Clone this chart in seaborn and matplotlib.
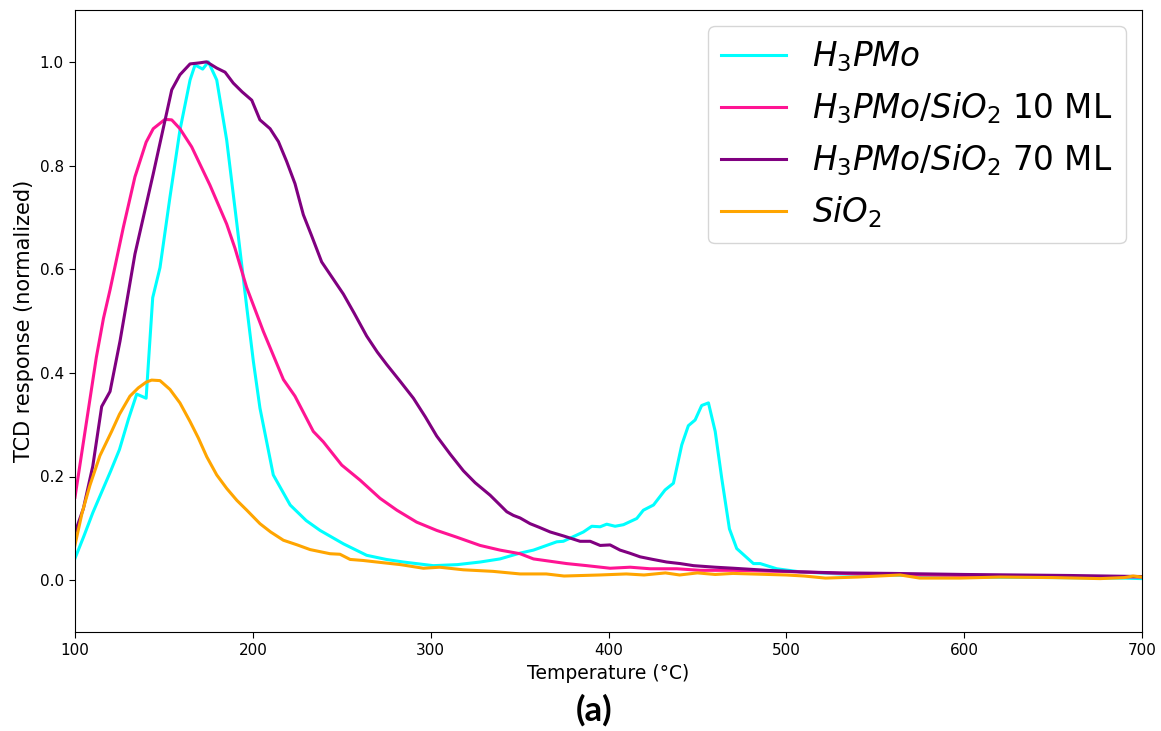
import matplotlib
matplotlib.use("Agg")
import matplotlib.pyplot as plt
import seaborn as sns
import pandas as pd

# TPD profiles (normalized TCD signal) versus temperature, one list pair per sample
t_h3pmo = [100, 105, 110, 115, 120, 125, 130, 134.7, 140, 141.3, 143.7, 147.8, 153.4, 159,
           164.7, 167.5, 171.8, 175, 179.7, 185.3, 191, 196.6, 200.3, 204, 211.5, 221, 230,
           237.8, 251, 264, 275, 284.7, 301.5, 315, 327.8, 339, 350, 357.8, 370.9, 374.6,
           385.9, 390.6, 395.3, 399, 403.7, 408.4, 415.9, 419.6, 425.3, 431.8, 436.5, 441.2,
           444.9, 448.7, 452.4, 456.2, 460, 463.7, 468, 472.1, 481.5, 485.3, 494.6, 507.8,
           530, 560, 600, 650, 690, 700]
y_h3pmo = [0.042, 0.085, 0.13, 0.17, 0.21, 0.252, 0.31, 0.359, 0.351, 0.42, 0.545, 0.603,
           0.739, 0.868, 0.965, 0.994, 0.986, 1.0, 0.965, 0.849, 0.688, 0.526, 0.422, 0.332,
           0.203, 0.145, 0.115, 0.096, 0.070, 0.048, 0.040, 0.035, 0.028, 0.030, 0.035, 0.041,
           0.052, 0.058, 0.074, 0.075, 0.093, 0.104, 0.103, 0.108, 0.104, 0.107, 0.119, 0.135,
           0.145, 0.174, 0.187, 0.261, 0.298, 0.309, 0.337, 0.342, 0.287, 0.196, 0.099, 0.061,
           0.032, 0.032, 0.022, 0.016, 0.012, 0.010, 0.006, 0.005, 0.004, 0.003]

t_10ml = [100, 104, 108, 112, 116, 119.7, 127.2, 133.7, 140, 144, 150.6, 154.4, 159,
          165.6, 175.9, 185.3, 190, 196.5, 205.9, 217.2, 223.7, 234, 239.6, 250, 260.3, 271.5,
          281, 292.1, 303.4, 314.6, 327.8, 339, 350.3, 357.8, 376.5, 387.8, 400.9, 412.2,
          423.4, 438.4, 451.5, 470.3, 507.8, 540, 580, 620, 660, 700]
y_10ml = [0.160, 0.25, 0.34, 0.43, 0.505, 0.56, 0.681, 0.778, 0.845, 0.871, 0.889, 0.888,
          0.871, 0.836, 0.762, 0.687, 0.64, 0.565, 0.48, 0.387, 0.355, 0.287, 0.267, 0.222,
          0.193, 0.158, 0.135, 0.112, 0.096, 0.083, 0.067, 0.058, 0.051, 0.041, 0.032, 0.028,
          0.023, 0.025, 0.022, 0.022, 0.019, 0.019, 0.016, 0.012, 0.010, 0.008, 0.007, 0.006]

t_70ml = [100, 104.7, 110, 115, 119.7, 125.3, 133.7, 144, 154.4, 159, 164.7, 170, 174,
          179.7, 184.4, 189, 194, 199.4, 204, 209.7, 214.4, 219, 223.7, 228.4, 233, 238.7,
          245, 250.9, 257, 264, 270, 275.3, 283, 290.3, 297, 303.4, 311, 318.4, 325, 333.4,
          339, 342.8, 346.5, 350.3, 355.9, 361, 367.2, 375, 384, 389.7, 395.3, 400.9, 406.5,
          412, 417.8, 425, 432.7, 440.3, 447.8, 460, 470.3, 489, 507.8, 530, 560, 580, 600,
          630, 660, 680, 700]
y_70ml = [0.092, 0.138, 0.22, 0.335, 0.364, 0.461, 0.629, 0.784, 0.946, 0.975, 0.996, 0.998,
          1.0, 0.988, 0.980, 0.959, 0.942, 0.926, 0.888, 0.871, 0.846, 0.808, 0.765, 0.705,
          0.665, 0.614, 0.582, 0.552, 0.515, 0.471, 0.440, 0.416, 0.383, 0.351, 0.315, 0.278,
          0.243, 0.211, 0.188, 0.164, 0.145, 0.132, 0.125, 0.120, 0.109, 0.102, 0.093, 0.085,
          0.075, 0.075, 0.067, 0.068, 0.058, 0.052, 0.045, 0.040, 0.035, 0.032, 0.028, 0.025,
          0.023, 0.019, 0.016, 0.014, 0.013, 0.012, 0.011, 0.010, 0.009, 0.008, 0.007]

t_sio2 = [100, 104, 108.4, 114, 120.6, 125, 130.9, 135.6, 140, 143.1, 147.8, 153.4, 159,
          164.7, 169.4, 174.1, 179.7, 185.3, 191, 196.6, 204, 210, 217.2, 225, 232.2, 243.4,
          249, 254.7, 262, 269.7, 283, 295.9, 305, 318.4, 335, 350.3, 365, 375, 395, 410,
          420, 432, 440, 450, 460, 470, 480, 500, 510, 522, 540, 564, 575, 597.7, 620, 650,
          676.5, 690, 695, 700]
y_sio2 = [0.068, 0.13, 0.183, 0.24, 0.287, 0.32, 0.355, 0.371, 0.382, 0.386, 0.385, 0.368,
          0.342, 0.306, 0.274, 0.238, 0.203, 0.177, 0.154, 0.135, 0.109, 0.093, 0.077, 0.068,
          0.059, 0.051, 0.050, 0.040, 0.038, 0.035, 0.030, 0.023, 0.025, 0.020, 0.017, 0.012,
          0.012, 0.008, 0.010, 0.012, 0.010, 0.014, 0.010, 0.014, 0.011, 0.013, 0.012, 0.010,
          0.008, 0.004, 0.006, 0.010, 0.004, 0.004, 0.006, 0.005, 0.003, 0.005, 0.008, 0.006]

labels = [r"$H_3PMo$", r"$H_3PMo/SiO_2$ 10 ML", r"$H_3PMo/SiO_2$ 70 ML", r"$SiO_2$"]
colors = ["#00FFFF", "#FF1493", "#800080", "#FFA500"]

frames = []
for lab, t, y in zip(labels, [t_h3pmo, t_10ml, t_70ml, t_sio2],
                     [y_h3pmo, y_10ml, y_70ml, y_sio2]):
    frames.append(pd.DataFrame({"Temperature": t, "TCD": y, "Sample": lab}))
df = pd.concat(frames, ignore_index=True)

fig = plt.figure(figsize=(11.61, 7.31), dpi=100)
ax = fig.add_axes([75 / 1161, 1 - 632 / 731, (1142 - 75) / 1161, (632 - 10) / 731])

sns.lineplot(data=df, x="Temperature", y="TCD", hue="Sample", hue_order=labels,
             palette=dict(zip(labels, colors)), estimator=None, errorbar=None,
             linewidth=2.2, ax=ax)

ax.set_xlim(100, 700)
ax.set_ylim(-0.1, 1.1)
ax.set_xticks([100, 200, 300, 400, 500, 600, 700])
ax.set_yticks([0.0, 0.2, 0.4, 0.6, 0.8, 1.0])
ax.tick_params(labelsize=11, length=4.5)
ax.set_xlabel("Temperature (°C)", fontsize=13.5)
ax.set_ylabel("TCD response (normalized)", fontsize=15)

sns.move_legend(ax, "upper right", fontsize=23.5, title=None, borderaxespad=0.5,
                labelspacing=0.5)

fig.text(594 / 1161, 1 - 710 / 731, "(a)", fontsize=25, fontweight="bold",
         family=["Lato", "DejaVu Sans"], ha="center", va="center")

fig.savefig("out.png", dpi=100)
